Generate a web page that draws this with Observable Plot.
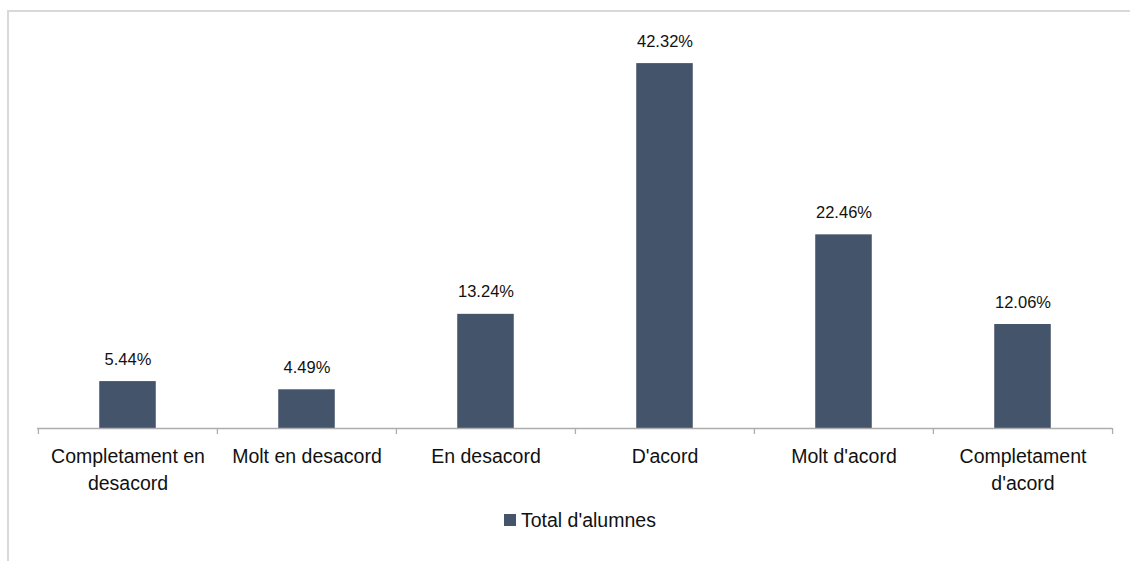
<!DOCTYPE html>
<html>
<head>
<meta charset="utf-8">
<script src="https://cdn.jsdelivr.net/npm/d3@7"></script>
<script src="https://cdn.jsdelivr.net/npm/@observablehq/plot@0.6"></script>
<style>
  html, body { margin: 0; padding: 0; background: #fff; }
  body { width: 1130px; height: 561px; position: relative; overflow: hidden; font-family: "Liberation Sans", Arial, sans-serif; }
  #frame { position: absolute; left: 7px; top: 10px; width: 1200px; height: 700px; border-left: 2px solid #d9d9d9; border-top: 2px solid #d9d9d9; }
  #chart { position: absolute; left: 0; top: 0; }
  #legend { position: absolute; left: 504px; top: 509px; display: flex; align-items: center; gap: 5px; font-size: 19.5px; line-height: 22px; color: #111; }
  #legend .sw { width: 12px; height: 12px; background: #44546a; }
</style>
</head>
<body>
<div id="frame"></div>
<div id="chart"></div>
<div id="legend"><div class="sw"></div><span>Total d'alumnes</span></div>
<script>
const categories = ["Completament en desacord", "Molt en desacord", "En desacord", "D'acord", "Molt d'acord", "Completament d'acord"];
const tickLabels = ["Completament en\ndesacord", "Molt en desacord", "En desacord", "D'acord", "Molt d'acord", "Completament\nd'acord"];
const values = [5.44, 4.49, 13.24, 42.32, 22.46, 12.06];
const seriesName = "Total d'alumnes";

const data = categories.map((c, i) => ({cat: c, label: tickLabels[i], value: values[i]}));

const W = 1130, H = 500, ML = 37, MR = 18;
const step = (W - ML - MR) / categories.length;
const barColor = "#44546a";
const axisColor = "#adadad";
const font = "'Liberation Sans', Arial, sans-serif";

const chart = Plot.plot({
  width: W,
  height: H,
  marginLeft: ML,
  marginRight: MR,
  marginTop: 40,
  marginBottom: 72,
  style: {fontFamily: font, background: "transparent", overflow: "visible"},
  x: {domain: categories, padding: 0, axis: null},
  y: {domain: [0, 45], axis: null},
  marks: [
    Plot.barY(data, {x: "cat", y: "value", fill: barColor, insetLeft: (step - 56.7) / 2, insetRight: (step - 56.7) / 2}),
    Plot.ruleY([0], {stroke: axisColor, strokeWidth: 1.3}),
    Plot.ruleX(categories, {x: d => d, y1: 0, y2: 0, dx: -step / 2, insetBottom: -6, stroke: axisColor, strokeWidth: 1.3}),
    Plot.ruleX(categories.slice(-1), {x: d => d, y1: 0, y2: 0, dx: step / 2, insetBottom: -6, stroke: axisColor, strokeWidth: 1.3}),
    Plot.text(data, {x: "cat", y: "value", text: d => d3.format(".2f")(d.value) + "%", dy: -17, lineAnchor: "bottom", fontSize: 16.5, fill: "#111"}),
    Plot.text(data, {x: "cat", y: 0, text: "label", lineAnchor: "top", dy: 16, lineHeight: 1.36, fontSize: 19.5, fill: "#111"})
  ]
});
document.getElementById("chart").appendChild(chart);
</script>
</body>
</html>
